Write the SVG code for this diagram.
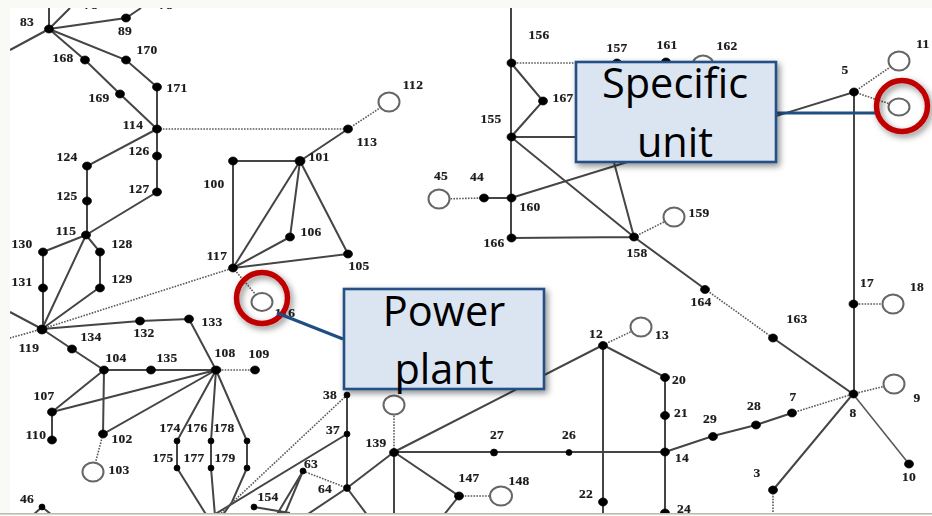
<svg xmlns="http://www.w3.org/2000/svg" width="932" height="516" viewBox="0 0 932 516">
<style>
.e{fill:none;stroke:#444;stroke-width:2}
.t{fill:none;stroke:#555;stroke-width:1.5}
.d{fill:none;stroke:#5a5a5a;stroke-width:1.6;stroke-dasharray:1.6 1.3}
.n{fill:#050505;stroke:#050505;stroke-width:.7}
.c{fill:#fff;stroke:#666;stroke-width:2}
text.l{font-family:"Liberation Serif",serif;font-weight:700;font-size:13.5px;fill:#1c1c1c;stroke:#1c1c1c;stroke-width:.2;text-anchor:middle;letter-spacing:.3px}
.box{fill:#dbe5f1;stroke:#254f85;stroke-width:2.6}
.bt{font-family:"Open Sans","Noto Sans",sans-serif;font-size:41.5px;fill:#000;text-anchor:middle}
.lead{fill:none;stroke:#1f4e82;stroke-width:3}
.ring{fill:none;stroke:#c00000;stroke-width:5.5}
</style>
<defs>
<clipPath id="frame"><rect x="10" y="8" width="922" height="505"/></clipPath>
<filter id="soft" filterUnits="userSpaceOnUse" x="0" y="0" width="932" height="516"><feGaussianBlur stdDeviation="0.45"/></filter>
<filter id="shadow" x="-25%" y="-25%" width="155%" height="155%"><feDropShadow dx="2.5" dy="3" stdDeviation="3" flood-color="#000" flood-opacity="0.45"/></filter>
</defs>
<rect width="932" height="516" fill="#f9f9f5"/>
<rect x="10" y="8" width="922" height="505" fill="#fff"/>
<rect x="0" y="513" width="932" height="1.5" fill="#b9b9b4"/>
<g clip-path="url(#frame)"><g filter="url(#soft)">
<g id="connectors">
<path class="e" d="M49 29L49 5M49 29L70 8M49 29L10 50M49 29L126 18L141 8M49 29L85 60L120 94L157 129M49 29L126 60L157 87L157 192L86 235M157 129L87 166L87 235M86 235L43 252L43 329M86 235L100 252L100 287L42 329M86 235L42 329"/>
<path class="e" d="M42 329L10 312M42 329L140 321L189 319L216 370M42 329L72 349L104 370L216 370M104 370L52 412L216 370M52 412L52 440M104 370L103 434L216 370"/>
<path class="e" d="M216 370L177 441L177 468L207 516M216 370L211 441L211 468L215 516M216 370L247 441L247 468L232 502L222 516"/>
<path class="e" d="M233 268L233 161L300 161L233 268M300 161L290 237L233 268M300 161L348 254L233 268M300 161L348 129"/>
<path class="e" d="M511 8L511 238L634 237M511 63L543 101L511 137L634 237L705 289M511 137L600 137M511 198L484 198M511 198L854 92L854 394M634 237L612 155"/>
<path class="e" d="M773 338L853 394L773 490M603 345L603 516M603 345L665 377L665 516M665 452L713 436L756 425L792 413M394 452L665 452M394 452L603 345M394 452L394 516M394 452L459 496L443 516M394 452L347 488L305 516M347 395L347 488L368 516M347 434L212 516M303 471L276 516M303 471L284 516M254 507L290 513"/>
<path class="d" d="M157 129L348 129L389 102M42 329L233 268L262 302M42 329L10 338M216 370L255 370M103 434L93 472M347 395L218 516M303 471L347 488M394 452L394 405M459 496L501 496M511 63L600 63M484 198L439 199M634 237L674 217M705 289L773 338M603 345L641 327M792 413L853 394L894 384M853 304L893 304M854 92L899 61M854 92L899 107M773 490L773 516"/>
<path class="t" d="M853 394L909 464"/>
</g>
<g id="n83"><ellipse class="n" cx="49" cy="29" rx="4.5" ry="4"/><text class="l" x="27" y="26">83</text></g>
<g id="n89"><ellipse class="n" cx="126" cy="18" rx="4.5" ry="4"/><text class="l" x="125" y="35">89</text></g>
<g id="n78"><text class="l" x="91" y="9">78</text></g>
<g id="n90"><text class="l" x="166" y="9">78</text></g>
<g id="n168"><ellipse class="n" cx="85" cy="60" rx="4.5" ry="4"/><text class="l" x="63" y="62">168</text></g>
<g id="n170"><ellipse class="n" cx="126" cy="60" rx="4.5" ry="4"/><text class="l" x="147" y="54">170</text></g>
<g id="n171"><ellipse class="n" cx="157" cy="87" rx="4.5" ry="4"/><text class="l" x="177" y="92">171</text></g>
<g id="n169"><ellipse class="n" cx="120" cy="94" rx="4.5" ry="4"/><text class="l" x="99" y="102">169</text></g>
<g id="n114"><ellipse class="n" cx="157" cy="129" rx="4.5" ry="4"/><text class="l" x="133" y="129">114</text></g>
<g id="n126"><ellipse class="n" cx="157" cy="156" rx="4.5" ry="4"/><text class="l" x="139" y="155">126</text></g>
<g id="n127"><ellipse class="n" cx="157" cy="192" rx="4.5" ry="4"/><text class="l" x="139" y="193">127</text></g>
<g id="n124"><ellipse class="n" cx="87" cy="166" rx="4.5" ry="4"/><text class="l" x="67" y="161">124</text></g>
<g id="n125"><ellipse class="n" cx="87" cy="201" rx="4.5" ry="4"/><text class="l" x="67" y="200">125</text></g>
<g id="n115"><ellipse class="n" cx="86" cy="235" rx="4.5" ry="4"/><text class="l" x="66" y="235">115</text></g>
<g id="n130"><ellipse class="n" cx="43" cy="252" rx="4.5" ry="4"/><text class="l" x="22" y="248">130</text></g>
<g id="n128"><ellipse class="n" cx="100" cy="252" rx="4.5" ry="4"/><text class="l" x="122" y="248">128</text></g>
<g id="n131"><ellipse class="n" cx="43" cy="288" rx="4.5" ry="4"/><text class="l" x="22" y="286">131</text></g>
<g id="n129"><ellipse class="n" cx="100" cy="288" rx="4.5" ry="4"/><text class="l" x="122" y="283">129</text></g>
<g id="n119"><ellipse class="n" cx="42" cy="329.5" rx="5" ry="4.5"/><text class="l" x="29" y="352">119</text></g>
<g id="n132"><ellipse class="n" cx="140" cy="321" rx="4.5" ry="4"/><text class="l" x="144" y="337">132</text></g>
<g id="n133"><ellipse class="n" cx="189" cy="319" rx="4.5" ry="4"/><text class="l" x="212" y="326">133</text></g>
<g id="n134"><ellipse class="n" cx="72" cy="349" rx="4.5" ry="4"/><text class="l" x="91" y="341">134</text></g>
<g id="n104"><ellipse class="n" cx="104" cy="370" rx="4.5" ry="4"/><text class="l" x="116" y="362">104</text></g>
<g id="n135"><ellipse class="n" cx="151" cy="370" rx="4.5" ry="4"/><text class="l" x="167" y="362">135</text></g>
<g id="n108"><ellipse class="n" cx="216" cy="370" rx="5" ry="4"/><text class="l" x="225" y="357">108</text></g>
<g id="n109"><ellipse class="n" cx="255" cy="370" rx="4.5" ry="4"/><text class="l" x="259" y="358">109</text></g>
<g id="n107"><ellipse class="n" cx="52" cy="412" rx="4.5" ry="4"/><text class="l" x="44" y="400">107</text></g>
<g id="n110"><ellipse class="n" cx="52" cy="440" rx="4.5" ry="4"/><text class="l" x="36" y="439">110</text></g>
<g id="n102"><ellipse class="n" cx="103" cy="434" rx="4.5" ry="4"/><text class="l" x="122" y="443">102</text></g>
<g id="n103"><ellipse class="c" cx="93" cy="472" rx="10.5" ry="9.5"/><text class="l" x="119" y="474">103</text></g>
<g id="n174"><circle class="n" cx="177" cy="441" r="3"/><text class="l" x="170" y="432">174</text></g>
<g id="n176"><circle class="n" cx="211" cy="441" r="3"/><text class="l" x="197" y="432">176</text></g>
<g id="n178"><circle class="n" cx="247" cy="441" r="3"/><text class="l" x="224" y="432">178</text></g>
<g id="n175"><circle class="n" cx="177" cy="468" r="3"/><text class="l" x="163" y="462">175</text></g>
<g id="n177"><circle class="n" cx="211" cy="468" r="3"/><text class="l" x="194" y="462">177</text></g>
<g id="n179"><circle class="n" cx="247" cy="468" r="3"/><text class="l" x="225" y="462">179</text></g>
<g id="n46"><path class="e" d="M33 515L42 507L52 515"/><circle class="n" cx="42" cy="507" r="3"/><text class="l" x="27" y="503">46</text></g>
<g id="n154"><circle class="n" cx="254" cy="507" r="3"/><text class="l" x="268" y="501">154</text></g>
<g id="n117"><ellipse class="n" cx="233" cy="268" rx="4.5" ry="4"/><text class="l" x="217" y="260">117</text></g>
<g id="n100"><ellipse class="n" cx="233" cy="161" rx="4.5" ry="4"/><text class="l" x="214" y="188">100</text></g>
<g id="n101"><ellipse class="n" cx="300" cy="161" rx="5" ry="4.5"/><text class="l" x="319" y="161">101</text></g>
<g id="n106"><ellipse class="n" cx="290" cy="237" rx="4.5" ry="4"/><text class="l" x="311" y="236">106</text></g>
<g id="n105"><ellipse class="n" cx="348" cy="254" rx="4.5" ry="4"/><text class="l" x="359" y="270">105</text></g>
<g id="n113"><ellipse class="n" cx="348" cy="129" rx="4.5" ry="4"/><text class="l" x="367" y="146">113</text></g>
<g id="n112"><ellipse class="c" cx="389" cy="102" rx="10.5" ry="9.5"/><text class="l" x="413" y="89">112</text></g>
<g id="n116"><ellipse class="c" cx="262" cy="302" rx="10.500" ry="9"/><text class="l" x="285" y="317">116</text></g>
<g id="n156"><ellipse class="n" cx="511.500" cy="63" rx="4.5" ry="4"/><text class="l" x="539" y="39">156</text></g>
<g id="n167"><ellipse class="n" cx="543" cy="101" rx="4.5" ry="4"/><text class="l" x="563" y="102">167</text></g>
<g id="n155"><ellipse class="n" cx="511.500" cy="137" rx="4.5" ry="4"/><text class="l" x="491" y="123">155</text></g>
<g id="n160"><ellipse class="n" cx="511.500" cy="198" rx="4.5" ry="4"/><text class="l" x="530" y="211">160</text></g>
<g id="n44"><ellipse class="n" cx="484" cy="198" rx="4.5" ry="4"/><text class="l" x="477" y="181">44</text></g>
<g id="n45"><ellipse class="c" cx="439" cy="199" rx="10.5" ry="9.5"/><text class="l" x="441" y="180">45</text></g>
<g id="n166"><ellipse class="n" cx="511.500" cy="238" rx="4.5" ry="4"/><text class="l" x="494" y="247">166</text></g>
<g id="n157"><ellipse class="n" cx="617" cy="63" rx="4.500" ry="4"/><text class="l" x="617" y="52">157</text></g>
<g id="n161"><ellipse class="n" cx="666" cy="62" rx="4.500" ry="4"/><text class="l" x="667" y="49">161</text></g>
<g id="n162"><ellipse class="c" cx="703" cy="65" rx="10.5" ry="9.5"/><text class="l" x="727" y="50">162</text></g>
<g id="n158"><ellipse class="n" cx="634" cy="237" rx="4.5" ry="4"/><text class="l" x="637" y="257">158</text></g>
<g id="n159"><ellipse class="c" cx="674" cy="217" rx="10.5" ry="9.5"/><text class="l" x="699" y="217">159</text></g>
<g id="n164"><ellipse class="n" cx="705" cy="289.500" rx="4.5" ry="4"/><text class="l" x="701" y="306">164</text></g>
<g id="n163"><ellipse class="n" cx="773" cy="338" rx="4.5" ry="4"/><text class="l" x="797" y="323">163</text></g>
<g id="n5"><ellipse class="n" cx="854" cy="92" rx="4.5" ry="4"/><text class="l" x="845" y="74">5</text></g>
<g id="n11"><ellipse class="c" cx="899" cy="61" rx="10.5" ry="9.5"/><text class="l" x="923" y="48">11</text></g>
<g id="n6"><ellipse class="c" cx="899" cy="107" rx="10.5" ry="8.5"/></g>
<g id="n17"><ellipse class="n" cx="853.500" cy="304" rx="4.5" ry="4"/><text class="l" x="867" y="287">17</text></g>
<g id="n18"><ellipse class="c" cx="893" cy="304" rx="10.5" ry="9.5"/><text class="l" x="917" y="291">18</text></g>
<g id="n8"><ellipse class="n" cx="853.500" cy="394" rx="4.5" ry="4"/><text class="l" x="853" y="417">8</text></g>
<g id="n9"><ellipse class="c" cx="894" cy="384" rx="10.5" ry="9.5"/><text class="l" x="917" y="402">9</text></g>
<g id="n10"><ellipse class="n" cx="909" cy="464" rx="4.5" ry="4"/><text class="l" x="909" y="481">10</text></g>
<g id="n7"><ellipse class="n" cx="792" cy="413" rx="4.5" ry="4"/><text class="l" x="793" y="401">7</text></g>
<g id="n28"><ellipse class="n" cx="756" cy="425" rx="4.5" ry="4"/><text class="l" x="754" y="410">28</text></g>
<g id="n29"><ellipse class="n" cx="713" cy="436.500" rx="4.5" ry="4"/><text class="l" x="710" y="423">29</text></g>
<g id="n14"><ellipse class="n" cx="665" cy="452" rx="4.5" ry="4"/><text class="l" x="682" y="462">14</text></g>
<g id="n21"><ellipse class="n" cx="665" cy="415.500" rx="4.5" ry="4"/><text class="l" x="681" y="417">21</text></g>
<g id="n20"><ellipse class="n" cx="665" cy="377.500" rx="4.5" ry="4"/><text class="l" x="679" y="384">20</text></g>
<g id="n12"><ellipse class="n" cx="603" cy="345.500" rx="4.5" ry="4"/><text class="l" x="596" y="338">12</text></g>
<g id="n13"><ellipse class="c" cx="641" cy="327" rx="10.5" ry="9.5"/><text class="l" x="662" y="339">13</text></g>
<g id="n26"><circle class="n" cx="569" cy="452.500" r="3"/><text class="l" x="569" y="439">26</text></g>
<g id="n27"><circle class="n" cx="494" cy="452.500" r="3.500"/><text class="l" x="497" y="439">27</text></g>
<g id="n139"><ellipse class="n" cx="394" cy="452.500" rx="4.500" ry="4"/><text class="l" x="376" y="447">139</text></g>
<g id="n140"><ellipse class="c" cx="394" cy="405" rx="10.5" ry="9.5"/></g>
<g id="n147"><ellipse class="n" cx="459" cy="496" rx="4.5" ry="4"/><text class="l" x="469" y="482">147</text></g>
<g id="n148"><ellipse class="c" cx="501" cy="496" rx="11" ry="9.5"/><text class="l" x="519" y="485">148</text></g>
<g id="n3"><ellipse class="n" cx="773" cy="490" rx="4.5" ry="4"/><text class="l" x="757" y="477">3</text></g>
<g id="n22"><ellipse class="n" cx="603" cy="502" rx="4.5" ry="4"/><text class="l" x="586" y="498">22</text></g>
<g id="n24"><ellipse class="n" cx="665" cy="513" rx="4.5" ry="4"/><text class="l" x="684" y="513">24</text></g>
<g id="n38"><circle class="n" cx="347" cy="395" r="3"/><text class="l" x="330" y="399">38</text></g>
<g id="n37"><circle class="n" cx="347" cy="434" r="3"/><text class="l" x="333" y="434">37</text></g>
<g id="n64"><circle class="n" cx="347" cy="488" r="3.500"/><text class="l" x="325" y="493">64</text></g>
<g id="n63"><circle class="n" cx="303" cy="471" r="3"/><text class="l" x="311" y="468">63</text></g>
</g></g>
<g id="callout-power">
<circle class="ring" cx="262" cy="298" r="25.500" filter="url(#shadow)"/>
<path class="lead" d="M277 313L343 339"/>
<rect class="box" x="344" y="289" width="200" height="100" filter="url(#shadow)"/>
<text class="bt" x="444" y="326">Power</text>
<text class="bt" x="444" y="384">plant</text>
</g>
<g id="callout-unit">
<circle class="ring" cx="902" cy="106" r="25.500" filter="url(#shadow)"/>
<path class="lead" d="M776 113L875 113"/>
<rect class="box" x="576" y="62" width="200" height="100" filter="url(#shadow)"/>
<text class="bt" x="675" y="98">Specific</text>
<text class="bt" x="675" y="157">unit</text>
</g>
</svg>
